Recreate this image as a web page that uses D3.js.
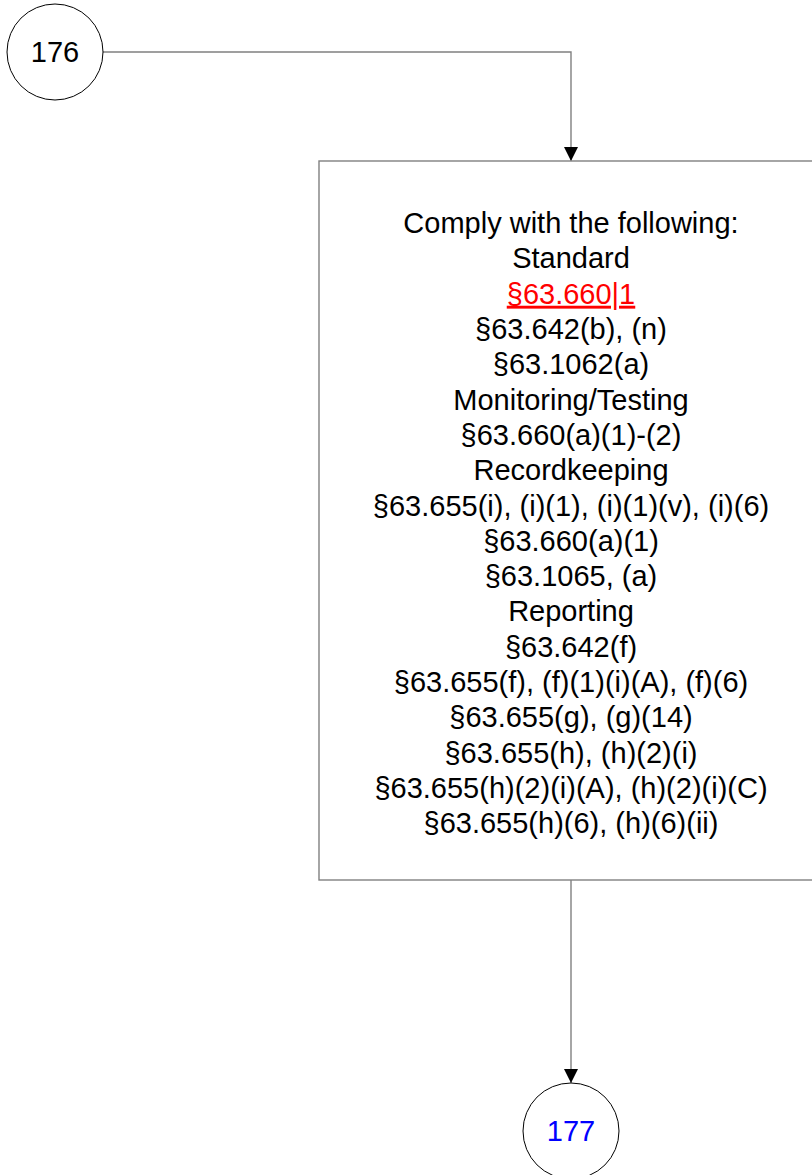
<!DOCTYPE html>
<html><head><meta charset="utf-8">
<script src="https://cdn.jsdelivr.net/npm/d3@7"></script>
<style>body{margin:0;background:#fff}svg{display:block}</style>
</head><body>
<script>
const startLabel = "176";
const endLabel = "177";
const boxLines = [
  "Comply with the following:",
  "Standard",
  "§63.660|1",
  "§63.642(b), (n)",
  "§63.1062(a)",
  "Monitoring/Testing",
  "§63.660(a)(1)-(2)",
  "Recordkeeping",
  "§63.655(i), (i)(1), (i)(1)(v), (i)(6)",
  "§63.660(a)(1)",
  "§63.1065, (a)",
  "Reporting",
  "§63.642(f)",
  "§63.655(f), (f)(1)(i)(A), (f)(6)",
  "§63.655(g), (g)(14)",
  "§63.655(h), (h)(2)(i)",
  "§63.655(h)(2)(i)(A), (h)(2)(i)(C)",
  "§63.655(h)(6), (h)(6)(ii)"
];
const linkLines = ["§63.660|1"];

const W = 812, H = 1175;
const svg = d3.select("body").append("svg").attr("width", W).attr("height", H);
const font = "Arial, 'Liberation Sans', sans-serif";
const fs = 29;

svg.append("defs").append("marker")
  .attr("id","arr").attr("viewBox","0 0 10 10").attr("refX",10).attr("refY",5)
  .attr("markerWidth",14).attr("markerHeight",14).attr("markerUnits","userSpaceOnUse")
  .attr("orient","auto")
  .append("path").attr("d","M0,0L10,5L0,10Z").attr("fill","#000");

const c1 = {x:55, y:52, r:48};
const c2 = {x:571, y:1131, r:48};
const box = {x:319, y:161, w:520, h:719};
const cx = 571;

svg.append("path")
  .attr("d", `M${c1.x+c1.r},${c1.y}H${cx}V${box.y}`)
  .attr("fill","none").attr("stroke","#808080").attr("stroke-width",1.4)
  .attr("marker-end","url(#arr)");
svg.append("path")
  .attr("d", `M${cx},${box.y+box.h}V${c2.y-c2.r}`)
  .attr("fill","none").attr("stroke","#808080").attr("stroke-width",1.4)
  .attr("marker-end","url(#arr)");

svg.append("rect").attr("x",box.x).attr("y",box.y).attr("width",box.w).attr("height",box.h)
  .attr("fill","none").attr("stroke","#808080").attr("stroke-width",1.4);

[[c1,startLabel,"#000"],[c2,endLabel,"#0000ff"]].forEach(([c,t,col])=>{
  svg.append("circle").attr("cx",c.x).attr("cy",c.y).attr("r",c.r)
    .attr("fill","#fff").attr("stroke","#000").attr("stroke-width",1);
  svg.append("text").attr("x",c.x).attr("y",c.y).attr("dy","0.35em")
    .attr("text-anchor","middle").attr("font-family",font).attr("font-size",fs)
    .attr("fill",col).text(t);
});

const y = d3.scalePoint().domain(d3.range(boxLines.length)).range([223, 823]);
const g = svg.append("g");
boxLines.forEach((t,i)=>{
  const isLink = linkLines.includes(t);
  const tx = g.append("text").attr("x",cx).attr("y",y(i)).attr("dy","0.35em")
    .attr("text-anchor","middle").attr("font-family",font).attr("font-size",fs)
    .attr("fill", isLink ? "#ff0000" : "#000").text(t);
  if (isLink) tx.attr("text-decoration","underline");
});
</script>
</body></html>
